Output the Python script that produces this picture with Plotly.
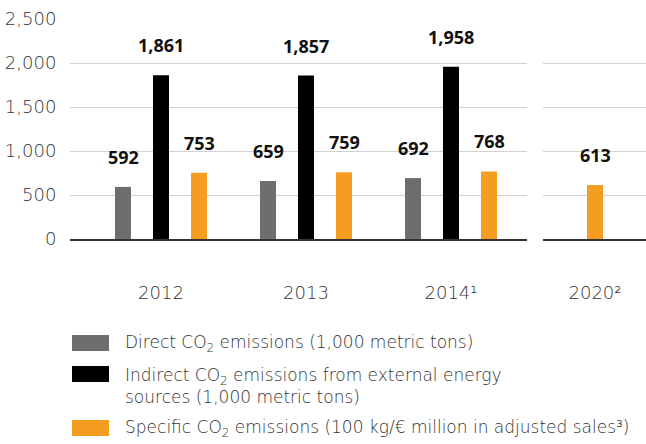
import plotly.graph_objects as go

# ---- data ----
categories = ["2012", "2013", "2014¹", "2020²"]
direct = [592, 659, 692, None]
indirect = [1861, 1857, 1958, None]
specific = [753, 759, 768, 613]

series_names = [
    "Direct CO<sub>2</sub> emissions (1,000 metric tons)",
    "Indirect CO<sub>2</sub> emissions from external energy<br>sources (1,000 metric tons)",
    "Specific CO<sub>2</sub> emissions (100 kg/€ million in adjusted sales³)",
]
series_values = [direct, indirect, specific]
series_colors = ["#6e6f6d", "#000000", "#f49d20"]

y_ticks = [0, 500, 1000, 1500, 2000, 2500]

# ---- geometry helpers ----
W, H = 646, 444
ML, MR, MT, MB = 70, 0, 19, 205
PW, PH = W - ML - MR, H - MT - MB
step = 38 / 145.0        # spacing between bars in a group (category units)
bar_w = 16 / 145.0
panel_of = [0, 0, 0, 1]  # 2020 sits in its own panel

label_fam = "Open Sans, sans-serif"
light_fam = "DejaVu Sans, sans-serif"
txt_col = "#333333"

fig = go.Figure()
annotations = []

for ci, cat in enumerate(categories):
    present = [si for si, vals in enumerate(series_values) if vals[ci] is not None]
    n = len(present)
    for k, si in enumerate(present):
        v = series_values[si][ci]
        xpos = ci + (k - (n - 1) / 2) * step
        xa = "x" if panel_of[ci] == 0 else "x2"
        ya = "y" if panel_of[ci] == 0 else "y2"
        fig.add_trace(go.Bar(
            x=[xpos], y=[v], width=bar_w,
            marker=dict(color=series_colors[si], line=dict(width=0)),
            xaxis=xa, yaxis=ya, showlegend=False, hoverinfo="skip",
        ))
        annotations.append(dict(
            x=xpos, y=v, xref=xa, yref=ya, text=f"{v:,}",
            showarrow=False, yanchor="middle", xanchor="center", yshift=30,
            font=dict(family=label_fam, size=18, color="#111111", weight="bold"),
        ))

# ---- manual legend ----
def px_x(px):
    return (px - ML) / PW

def px_y(py):
    return (MT + PH - py) / PH

legend_rows = [(335, 351, 343), (366, 382, 386), (420, 436, 428)]
for (y0, y1, yc), name, col in zip(legend_rows, series_names, series_colors):
    fig.add_shape(type="rect", xref="paper", yref="paper",
                  x0=px_x(72), x1=px_x(109), y0=px_y(y1), y1=px_y(y0),
                  fillcolor=col, line=dict(width=0))
    annotations.append(dict(
        x=px_x(123), y=px_y(yc), xref="paper", yref="paper", text=name,
        showarrow=False, xanchor="left", yanchor="middle", align="left",
        font=dict(family=light_fam, size=17, color=txt_col, weight=200),
    ))

p1_right = (527 - ML) / PW
p2_left = (543 - ML) / PW

axis_common = dict(
    showgrid=False, zeroline=False, showline=True, linecolor="#333333", linewidth=2,
    ticks="outside", ticklen=36, tickcolor="rgba(0,0,0,0)",
    tickfont=dict(family=light_fam, size=18, color=txt_col, weight=200),
    fixedrange=True,
)
fig.update_layout(
    width=W, height=H,
    margin=dict(l=ML, r=MR, t=MT, b=MB, pad=0),
    plot_bgcolor="white", paper_bgcolor="white",
    barmode="overlay", showlegend=False,
    annotations=annotations,
    xaxis=dict(domain=[0, p1_right], range=[-91 / 145, 2 + 76 / 145],
               tickmode="array", tickvals=[0, 1, 2], ticktext=categories[:3], **axis_common),
    xaxis2=dict(domain=[p2_left, 1], range=[3 - 52 / 145, 3 + 51 / 145], anchor="y2",
                tickmode="array", tickvals=[3], ticktext=categories[3:], **axis_common),
    yaxis=dict(range=[0, 2500], tickmode="array", tickvals=y_ticks,
               ticktext=[f"{t:,}" for t in y_ticks],
               showgrid=True, gridcolor="#d2d2d2", gridwidth=1, zeroline=False,
               showline=False, ticks="outside", ticklen=9, tickcolor="rgba(0,0,0,0)",
               tickfont=dict(family=light_fam, size=18, color=txt_col, weight=200),
               fixedrange=True),
    yaxis2=dict(range=[0, 2500], anchor="x2", matches="y", tickvals=y_ticks,
                showticklabels=False, showgrid=True, gridcolor="#d2d2d2", gridwidth=1,
                zeroline=False, showline=False, fixedrange=True),
)

fig.write_html("out.html", config={"displayModeBar": False})
